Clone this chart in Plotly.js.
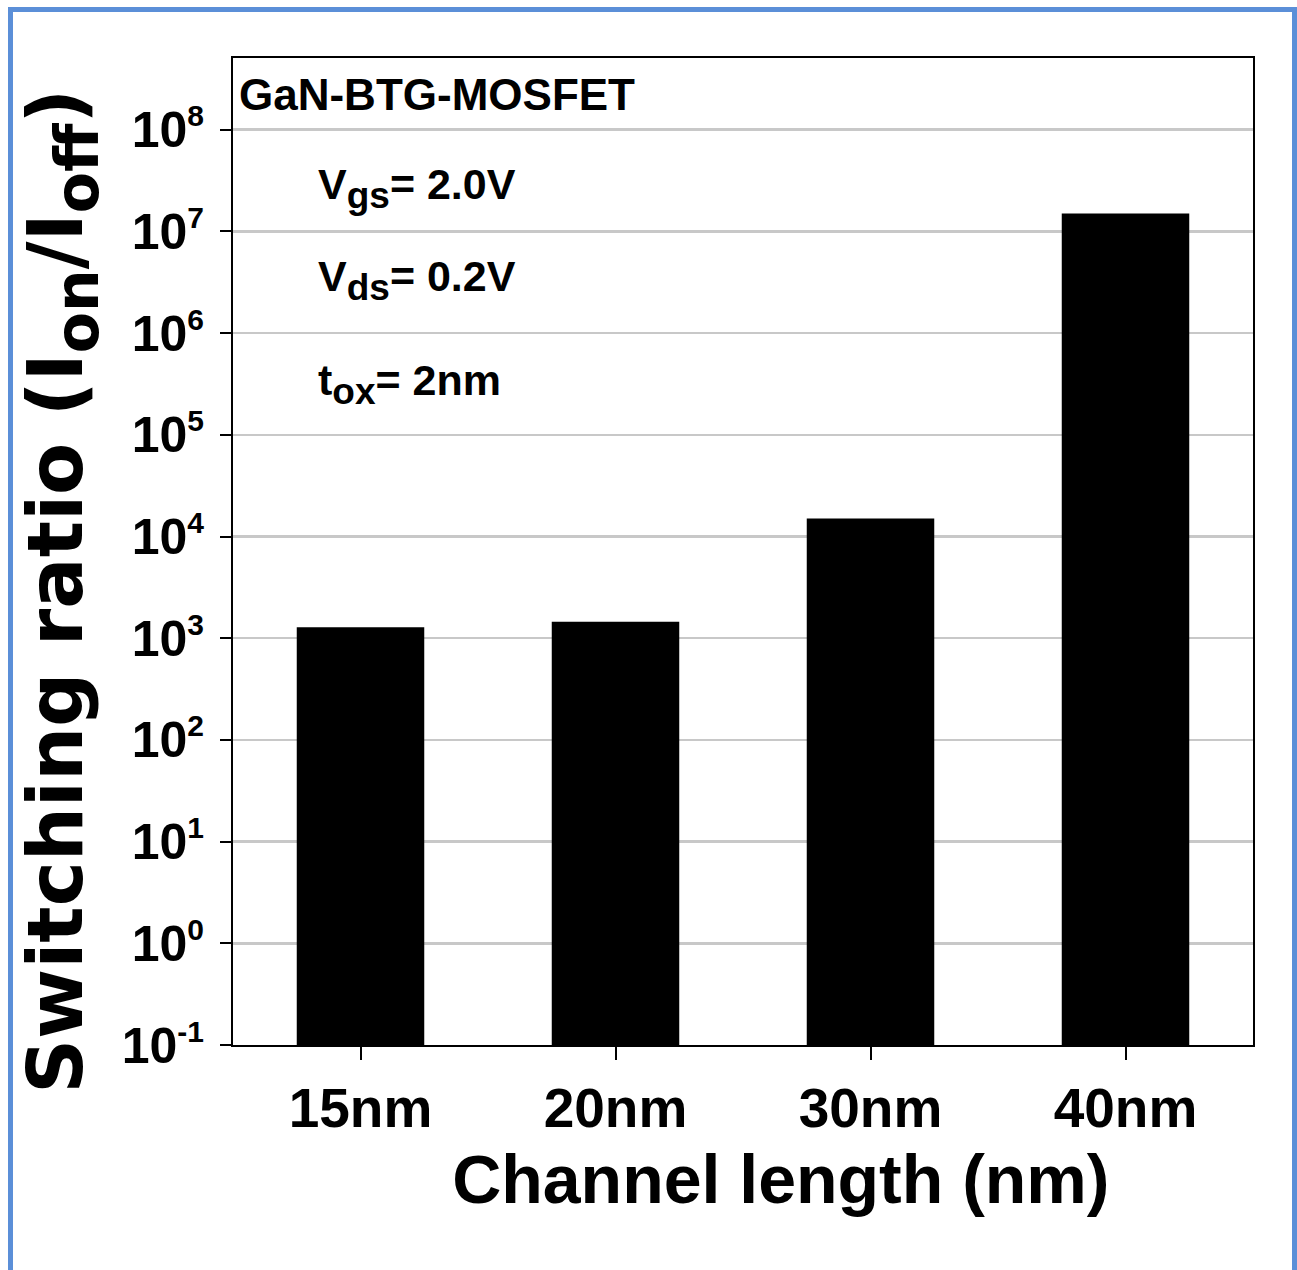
<!DOCTYPE html>
<html>
<head>
<meta charset="utf-8">
<script src="https://cdn.plot.ly/plotly-3.0.1.min.js"></script>
<style>
  html, body { margin: 0; padding: 0; background: #ffffff; }
  #chart { width: 1297px; height: 1270px; }
</style>
</head>
<body>
<div id="chart"></div>
<script>
// ---- data ----
const channelLengths = ['15nm', '20nm', '30nm', '40nm'];
const switchingRatio = [1.28e3, 1.45e3, 1.5e4, 1.5e7];
const yTickValues = [1e-1, 1e0, 1e1, 1e2, 1e3, 1e4, 1e5, 1e6, 1e7, 1e8];
const yTickExponents = ['-1', '0', '1', '2', '3', '4', '5', '6', '7', '8'];
const deviceName = 'GaN-BTG-MOSFET';
const conditionMain = ['V', 'V', 't'];
const conditionSub = ['gs', 'ds', 'ox'];
const conditionValue = ['= 2.0V', '= 0.2V', '= 2nm'];
const xTitle = 'Channel length (nm)';
const yTitleMain = 'Switching ratio (I';
const yTitleSub1 = 'on';
const yTitleSub2 = 'off';

const FONT = "'Liberation Sans', Arial, sans-serif";
const WIDE = "'DejaVu Sans', 'Liberation Sans', Arial, sans-serif";

// plot-area pixel geometry
const W = 1297, H = 1270;
const L = 233, R = 1253, T = 58, B = 1045;
const px2x = p => (p - L) / (R - L);
const px2y = p => (B - p) / (B - T);

const trace = {
  type: 'bar',
  x: channelLengths,
  y: switchingRatio,
  width: 0.5,
  marker: { color: '#000000', line: { width: 0 } },
  hoverinfo: 'x+y'
};

const subSpan = (s, size) => '<sub><span style="font-size:' + size + 'px">' + s + '</span></sub>';
const yTickLabels = yTickExponents.map(e => '10<sup><span style="font-size:30px">' + e + '</span></sup>');

const condYs = [188, 280, 384];
const annotations = [
  { text: '<b>' + deviceName + '</b>', xref: 'paper', yref: 'paper', x: px2x(237), y: px2y(95),
    xanchor: 'left', yanchor: 'middle', showarrow: false,
    font: { family: FONT, size: 44, color: '#000' } }
].concat(conditionMain.map((m, i) => ({
  text: '<b>' + m + subSpan(conditionSub[i], 37) + conditionValue[i] + '</b>',
  xref: 'paper', yref: 'paper', x: px2x(316), y: px2y(condYs[i]),
  xanchor: 'left', yanchor: 'middle', showarrow: false,
  font: { family: FONT, size: 43, color: '#000' }
})));

const nb = n => '&nbsp;'.repeat(n);

const layout = {
  width: W, height: H,
  margin: { l: L, r: W - R, t: T, b: H - B, pad: 0 },
  paper_bgcolor: '#ffffff',
  plot_bgcolor: '#ffffff',
  showlegend: false,
  xaxis: {
    type: 'category',
    range: [-0.5, 3.5],
    showline: true, linecolor: '#000', linewidth: 2, mirror: true,
    ticks: 'outside', ticklen: 13, tickwidth: 2, tickcolor: '#000',
    showgrid: false, zeroline: false,
    tickfont: { family: FONT, size: 55, color: '#000', weight: 'bold' },
    ticklabelstandoff: 1,
    title: { text: '<b>' + nb(4) + xTitle + '</b>', font: { family: FONT, size: 68, color: '#000' }, standoff: 17 }
  },
  yaxis: {
    type: 'log',
    range: [-1, 8.705],
    tickmode: 'array', tickvals: yTickValues, ticktext: yTickLabels,
    showline: true, linecolor: '#000', linewidth: 2, mirror: true,
    ticks: 'outside', ticklen: 11, tickwidth: 2, tickcolor: '#000',
    showgrid: true, gridcolor: '#c8c8c8', gridwidth: 2.5,
    zeroline: false,
    tickfont: { family: FONT, size: 50, color: '#000', weight: 'bold' },
    ticklabelstandoff: 6,
    title: {
      text: '<b>' + yTitleMain + subSpan(yTitleSub1, 60) + '/I' + subSpan(yTitleSub2, 60) + ')' + nb(3) + '</b>',
      font: { family: WIDE, size: 76, color: '#000' }, standoff: 14
    }
  },
  annotations: annotations,
  shapes: [
    { type: 'path', xref: 'paper', yref: 'paper',
      path: `M ${px2x(10.5)} ${px2y(1275)} L ${px2x(10.5)} ${px2y(9.5)} L ${px2x(1294.5)} ${px2y(9.5)} L ${px2x(1294.5)} ${px2y(1275)}`,
      line: { color: '#5b8fd8', width: 5 } }
  ]
};

Plotly.newPlot('chart', [trace], layout, { displayModeBar: false, staticPlot: true });
</script>
</body>
</html>
